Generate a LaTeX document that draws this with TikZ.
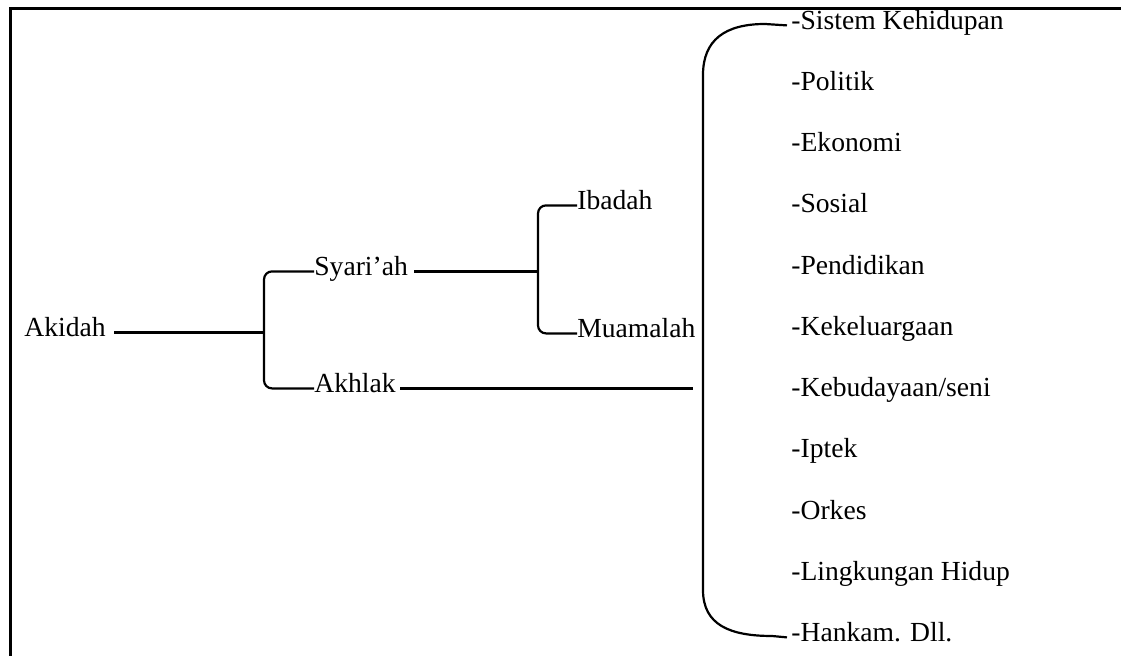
\documentclass[tikz,border=0pt]{standalone}
\usepackage{fontspec}
\setmainfont{Liberation Serif}
\usetikzlibrary{positioning}

\begin{document}
\begin{tikzpicture}[x=0.5pt, y=-0.5pt,
  lbl/.style={inner sep=0pt, anchor=base west, font=\fontsize{13.8}{16}\selectfont},
  conn/.style={line width=1.1pt},
  frame/.style={line width=1.5pt}
]
  \useasboundingbox (0,0) rectangle (1121,656);
  \draw[frame] (10,656) -- (10,8.5) -- (1121,8.5);

  \node[lbl] (akidah)   at (24,337)  {Akidah};
  \node[lbl] (syariah)  at (314,276) {Syari’ah};
  \node[lbl] (akhlak)   at (314,393) {Akhlak};
  \node[lbl] (ibadah)   at (577,210) {Ibadah};
  \node[lbl] (muamalah) at (577,338) {Muamalah};

  \node[lbl] (sistem)   at (791,30)  {-Sistem Kehidupan};
  \node[lbl] (politik)  at (791,91)  {-Politik};
  \node[lbl] (ekonomi)  at (791,152) {-Ekonomi};
  \node[lbl] (sosial)   at (791,213) {-Sosial};
  \node[lbl] (didik)    at (791,275) {-Pendidikan};
  \node[lbl] (keluarga) at (791,336) {-Kekeluargaan};
  \node[lbl] (budaya)   at (791,397) {-Kebudayaan/seni};
  \node[lbl] (iptek)    at (791,458) {-Iptek};
  \node[lbl] (orkes)    at (791,520) {-Orkes};
  \node[lbl] (hidup)    at (791,581) {-Lingkungan Hidup};
  \node[lbl] (hankam)   at (791,642) {-Hankam. Dll.};

  \coordinate (fork1)  at (264,331);
  \coordinate (fork2)  at (538,270);
  \coordinate (akhend) at (693,387);

  % first split
  \draw[conn] ([xshift=4pt]akidah.mid east) -- (akidah.mid -| fork1);
  \draw[conn, rounded corners=4pt] (syariah.mid west) -| (fork1) |- (akhlak.mid west);

  % syari'ah split
  \draw[conn] ([xshift=3pt]syariah.mid east) -- (syariah.mid -| fork2);
  \draw[conn, rounded corners=4pt] (ibadah.mid west) -| (fork2) |- (muamalah.mid west);

  % akhlak to the list
  \draw[conn] ([xshift=2pt]akhlak.mid east) -- (akhlak.mid -| akhend);
  \draw[conn] ([xshift=-2pt]sistem.mid west) -- (765,24)
    .. controls (725,24) and (703,40) .. (703,75) -- (703,590)
    .. controls (703,625) and (730,636) .. (772,636)
    -- ([xshift=-2pt]hankam.mid west);
\end{tikzpicture}
\end{document}
